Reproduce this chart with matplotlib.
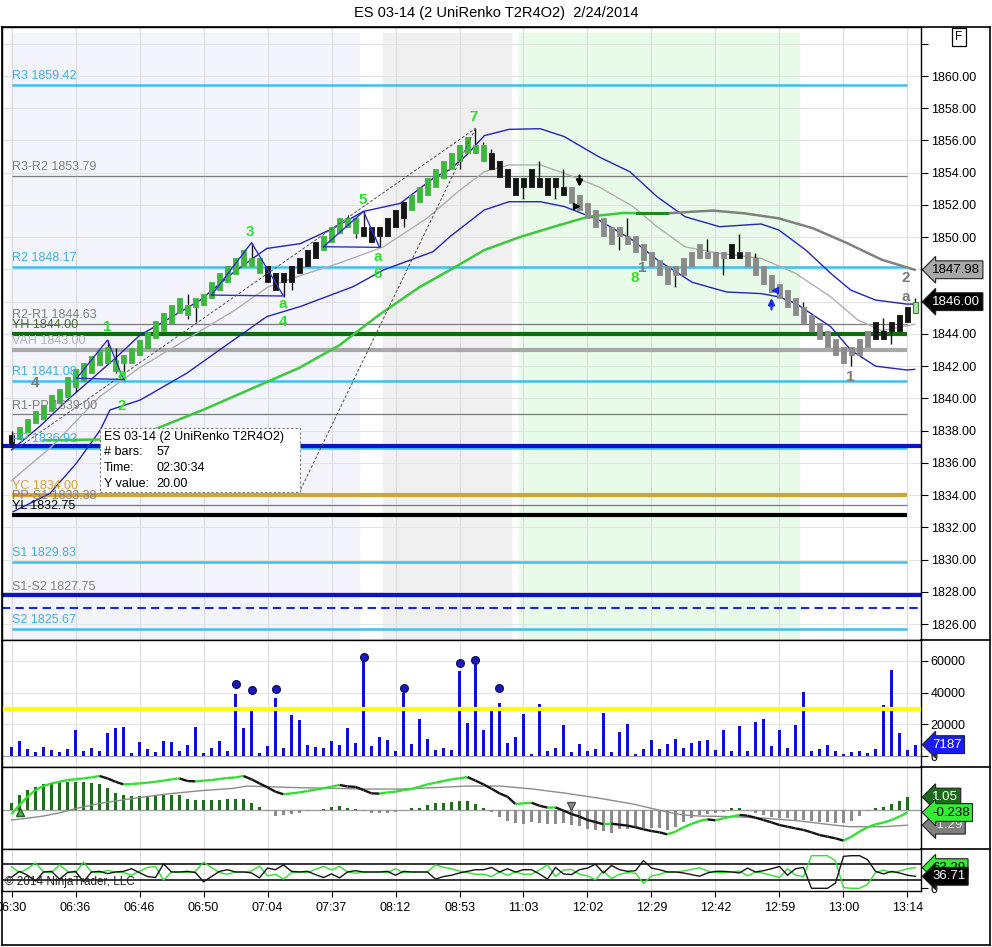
import numpy as np
import matplotlib
matplotlib.use("Agg")
import matplotlib.pyplot as plt
from matplotlib import font_manager
from matplotlib.patches import Rectangle
from matplotlib.collections import LineCollection
from matplotlib.lines import Line2D

plt.rcParams['font.family'] = ['Liberation Sans', 'DejaVu Sans']

# ---------------- data ----------------
title = "ES 03-14 (2 UniRenko T2R4O2)  2/24/2014"
time_labels = ["06:30", "06:36", "06:46", "06:50", "07:04", "07:37", "08:12", "08:53",
               "11:03", "12:02", "12:29", "12:42", "12:59", "13:00", "13:14"]

# renko bodies (top / bottom of body) and colour code per bar
body_top = [1837.75, 1838.25, 1838.7, 1839.2, 1839.6, 1840.2, 1840.6, 1841.3, 1841.8, 1842.2,
            1842.6, 1843.0, 1843.2, 1842.4, 1842.7, 1843.1, 1843.6, 1844.1, 1844.8, 1845.3,
            1845.8, 1846.2, 1845.8, 1846.2, 1846.5, 1847.2, 1847.8, 1848.2, 1848.7, 1849.2,
            1848.7, 1848.7, 1848.2, 1847.8, 1847.8, 1848.2, 1848.7, 1849.2, 1849.7, 1850.1,
            1850.65, 1851.2, 1851.2, 1851.2, 1850.65, 1850.65, 1850.65, 1851.2, 1851.7, 1852.2,
            1852.6, 1853.1, 1853.7, 1854.2, 1854.7, 1855.2, 1855.7, 1856.2, 1855.7, 1855.7,
            1855.2, 1854.7, 1854.2, 1853.7, 1853.7, 1854.2, 1853.7, 1853.7, 1853.7, 1853.1,
            1853.1, 1852.6, 1852.1, 1851.7, 1851.2, 1850.65, 1850.65, 1850.1, 1850.1, 1849.6,
            1849.1, 1848.6, 1848.2, 1848.2, 1848.7, 1849.1, 1849.6, 1849.1, 1849.1, 1849.1,
            1849.6, 1849.1, 1849.1, 1848.7, 1848.2, 1847.65, 1847.1, 1846.7, 1846.2, 1845.7,
            1845.2, 1844.65, 1844.2, 1843.7, 1843.2, 1843.2, 1843.7, 1844.2, 1844.75, 1844.2,
            1844.75, 1845.2, 1845.7, 1846.0]
body_bot = [1837.25, 1837.5, 1837.9, 1838.45, 1838.7, 1839.2, 1839.7, 1840.1, 1840.7, 1841.1,
            1841.6, 1842.1, 1842.2, 1841.7, 1842.2, 1842.2, 1842.7, 1843.1, 1843.75, 1844.2,
            1844.7, 1845.3, 1845.2, 1845.7, 1845.8, 1846.2, 1846.7, 1847.2, 1847.7, 1848.2,
            1848.2, 1847.8, 1847.2, 1846.7, 1847.2, 1847.2, 1847.8, 1848.2, 1848.7, 1849.2,
            1849.7, 1850.25, 1850.65, 1850.25, 1850.1, 1849.7, 1850.1, 1850.1, 1850.65, 1851.2,
            1851.7, 1852.2, 1852.6, 1853.1, 1853.7, 1854.2, 1854.7, 1855.2, 1855.2, 1854.7,
            1854.2, 1853.75, 1853.1, 1852.6, 1853.1, 1853.1, 1853.1, 1852.6, 1853.1, 1852.6,
            1852.1, 1851.7, 1851.2, 1850.65, 1850.1, 1849.6, 1850.1, 1849.6, 1849.1, 1848.6,
            1848.2, 1847.65, 1847.1, 1847.65, 1847.65, 1848.2, 1848.7, 1848.7, 1848.2, 1848.7,
            1848.7, 1848.7, 1848.2, 1847.65, 1847.1, 1846.6, 1846.2, 1845.7, 1845.2, 1844.65,
            1844.2, 1843.7, 1843.2, 1842.7, 1842.2, 1842.7, 1842.7, 1843.2, 1843.7, 1843.7,
            1844.2, 1844.2, 1844.75, 1845.3]
bar_color = ("k" + "g" * 31 + "k" * 7 + "g" * 5 + "k" * 6 + "g" * 10 + "k" * 10
             + "s" * 20 + "kk" + "s" * 16 + "k" * 5 + "L")

wick_idx = [8, 12, 13, 14, 22, 23, 30, 34, 35, 42, 43, 44, 46, 49, 56, 58, 59, 60, 64, 66,
            68, 69, 76, 77, 83, 87, 89, 91, 93, 99, 105, 109, 110, 113]
wick_lo = [1840.4, 1842.2, 1841.6, 1841.14, 1844.9, 1844.76, 1848.2, 1846.3, 1846.7, 1850.65,
           1849.95, 1850.1, 1849.4, 1850.65, 1854.2, 1855.2, 1854.7, 1854.2, 1852.4, 1853.1,
           1852.4, 1852.6, 1849.2, 1849.6, 1846.9, 1848.7, 1847.65, 1848.7, 1847.65, 1844.65,
           1842.0, 1843.7, 1843.4, 1845.3]
wick_hi = [1841.8, 1843.62, 1843.1, 1842.7, 1846.5, 1846.2, 1849.65, 1847.8, 1848.2, 1851.4,
           1851.2, 1851.6, 1850.65, 1852.2, 1855.7, 1856.75, 1855.9, 1855.45, 1853.7, 1854.7,
           1853.7, 1854.2, 1850.65, 1851.2, 1848.2, 1849.9, 1849.1, 1850.2, 1849.0, 1846.0,
           1843.2, 1845.0, 1844.75, 1846.2]

# envelope bands and moving averages (bar index, price)
upper_x = [0, 3.5, 7, 10, 13, 16, 19.5, 23.6, 27.7, 31.9, 36.1, 40.2, 44, 48.6, 52.7, 54.8, 56.9,
           59.1, 62.2, 66.1, 69.1, 73.4, 77.3, 80.7, 84.2, 88.5, 93.7, 95.9, 99.3, 102.4, 104.9,
           108, 111.9, 112.9]
upper_y = [1836.8, 1838.25, 1839.9, 1841.2, 1842.5, 1843.9, 1844.9, 1846.1, 1847.8, 1849.3,
           1849.6, 1850.55, 1851.6, 1852.1, 1853.65, 1854.2, 1855.1, 1856.3, 1856.69, 1856.73,
           1856.24, 1854.99, 1854.06, 1852.51, 1851.27, 1850.65, 1850.82, 1850.45, 1849.2,
           1847.76, 1846.72, 1846.1, 1845.85, 1845.85]
lower_x = [0.2, 4.8, 8.1, 11.1, 12.3, 16.1, 21.9, 27.7, 31.9, 36.1, 42.7, 46.5, 52.7, 54.8, 59.1,
           62.2, 66.1, 69.1, 73.4, 77.7, 80.7, 85.1, 89.4, 93.7, 95.9, 98, 102.4, 104.9, 108,
           111.9, 112.9]
lower_y = [1832.97, 1834.1, 1835.97, 1838.04, 1839.28, 1839.9, 1841.56, 1843.6, 1845.07, 1845.7,
           1846.93, 1847.97, 1849.1, 1850.03, 1851.69, 1852.2, 1852.2, 1851.9, 1851.07, 1849.8,
           1848.6, 1847.2, 1846.6, 1846.5, 1846.3, 1845.9, 1844.45, 1843.0, 1842.0, 1841.76,
           1841.8]
mid_x = [0, 5, 11, 16, 22, 28, 32, 36, 41, 46.5, 52, 56, 59.1, 62.2, 66.1, 69.1, 73.4, 77.7, 80.7,
         84.2, 88.5, 93.7, 98, 102.4, 105.8, 108.8, 112.9]
mid_y = [1834.9, 1837.0, 1840.1, 1841.9, 1843.7, 1845.5, 1846.9, 1847.6, 1848.4, 1849.4, 1851.2,
         1852.9, 1854.06, 1854.48, 1854.48, 1853.96, 1853.13, 1851.9, 1850.65, 1849.4, 1849.0,
         1848.69, 1847.76, 1846.3, 1844.86, 1844.2, 1844.6]
ma_green_x = [4, 11, 18, 24, 30, 36, 41, 46, 51, 54.8, 59.1, 63.5, 67.8, 72.1, 76.4, 82]
ma_green_y = [1837.4, 1837.45, 1838.1, 1839.3, 1840.6, 1841.9, 1843.3, 1845.2, 1846.9, 1847.96,
              1849.2, 1850.0, 1850.65, 1851.27, 1851.5, 1851.48]
ma_gray_x = [82, 85.1, 87.7, 91.6, 95.9, 100.2, 104.5, 108.8, 112.9]
ma_gray_y = [1851.48, 1851.58, 1851.65, 1851.48, 1851.17, 1850.55, 1849.62, 1848.6, 1847.98]

# pivot levels: (label, price, kind)
pivots = [("R3", 1859.42, "rs"), ("R3-R2", 1853.79, "mid"), ("R2", 1848.17, "rs"),
          ("R2-R1", 1844.63, "mid"), ("YH", 1844.00, "yh"), ("VAH", 1843.00, "vah"),
          ("R1", 1841.08, "rs"), ("R1-PP", 1839.00, "mid"), ("PP", 1836.92, "rs"),
          ("YC", 1834.00, "yc"), ("PP-S1", 1833.38, "mid"), ("YL", 1832.75, "yl"),
          ("S1", 1829.83, "rs"), ("S1-S2", 1827.75, "mid"), ("S2", 1825.67, "rs")]
drawn_lines = [1837.03, 1827.8]      # thick blue horizontal lines
drawn_dashed = 1827.02

# pattern triangles
tri_x = [[8.15, 12, 14, 8.15], [25, 30, 34, 25], [39, 44, 46, 39]]
tri_y = [[1841.25, 1843.62, 1841.17, 1841.25], [1846.41, 1849.66, 1846.35, 1846.41],
         [1849.41, 1851.6, 1849.37, 1849.41]]
dash_x = [[1, 58], [58, 36.1]]
dash_y = [[1837.0, 1856.75], [1856.75, 1834.3]]
green_marks = [("1", 11.95, 1844.4), ("a", 13.8, 1841.45), ("2", 13.8, 1839.5),
               ("3", 29.8, 1850.3), ("a", 33.9, 1845.86), ("4", 33.9, 1844.74),
               ("5", 43.9, 1852.3), ("a", 45.8, 1848.77), ("6", 45.8, 1847.72),
               ("7", 57.75, 1857.45), ("8", 77.9, 1847.45)]
gray_marks = [("4", 2.9, 1840.96), ("1", 78.8, 1848.1), ("1", 104.9, 1841.35),
              ("2", 111.8, 1847.45), ("a", 111.8, 1846.3)]

# volume
volume = [5500, 9500, 4400, 2500, 5700, 3800, 2500, 4400, 16500, 3200,
          5000, 3200, 14500, 17700, 18400, 1900, 8900, 4400, 2500, 9500,
          8900, 3200, 7000, 18400, 1900, 5000, 9500, 3200, 39200, 17700,
          29100, 1900, 6300, 36700, 5000, 26000, 22800, 7000, 5700, 5000,
          9500, 7000, 17700, 8200, 62500, 6300, 12000, 10100, 3200, 40100,
          7600, 23400, 10800, 3800, 5000, 3800, 53800, 20900, 57600, 16500,
          29100, 33500, 8200, 12000, 26600, 1300, 32900, 3200, 5000, 19600,
          2500, 7600, 3200, 4400, 27200, 2500, 15200, 20300, 1300, 4400,
          10100, 4400, 7600, 10800, 5000, 8200, 9500, 10100, 3800, 16500,
          3200, 19000, 3200, 21500, 23400, 6300, 16500, 5000, 19600, 40500,
          3200, 4400, 7000, 3200, 1300, 2500, 3200, 1900, 4400, 32300,
          54400, 14500, 3800, 7187]
vol_dot_idx = [28, 30, 33, 44, 49, 56, 58, 61]
vol_dot_val = [45400, 41600, 42200, 62500, 42800, 58700, 60600, 42800]
vol_level = 30000

# MACD
macd_hist = [0.58, 1.22, 1.64, 1.92, 2.14, 2.19, 2.28, 2.28, 2.33, 2.28,
             2.25, 2.14, 1.83, 1.42, 1.22, 1.17, 1.17, 1.17, 1.22, 1.22,
             1.22, 1.22, 0.86, 0.81, 0.81, 0.81, 0.81, 0.86, 0.86, 0.86,
             0.53, 0.19, -0.11, -0.5, -0.44, -0.36, -0.31, -0.14, -0.02, 0.02,
             0.25, 0.31, 0.11, 0.06, -0.08, -0.31, -0.31, -0.25, -0.17, -0.03,
             0.11, 0.17, 0.39, 0.53, 0.53, 0.67, 0.72, 0.72, 0.47, 0.14,
             -0.22, -0.58, -0.92, -1.14, -1.19, -1.0, -1.08, -1.22, -1.19, -1.14,
             -1.28, -1.36, -1.58, -1.69, -1.78, -1.92, -1.64, -1.64, -1.56, -1.5,
             -1.56, -1.56, -1.69, -1.42, -1.0, -0.72, -0.44, -0.36, -0.31, -0.17,
             0.14, 0.11, -0.08, -0.25, -0.44, -0.58, -0.72, -0.72, -0.86, -0.86,
             -0.94, -1.0, -1.0, -1.14, -1.14, -0.94, -0.53, -0.08, 0.17, 0.25,
             0.47, 0.75, 1.05]
macd_line = [-0.36, 0.39, 1.08, 1.64, 1.97, 2.19, 2.33, 2.47, 2.53, 2.61,
             2.69, 2.81, 2.61, 2.33, 2.11, 2.14, 2.19, 2.25, 2.33, 2.42,
             2.53, 2.61, 2.39, 2.36, 2.42, 2.47, 2.56, 2.64, 2.69, 2.81,
             2.53, 2.19, 1.86, 1.5, 1.28, 1.36, 1.44, 1.56, 1.67, 1.78,
             1.92, 2.06, 1.94, 1.9, 1.64, 1.36, 1.34, 1.44, 1.5, 1.64,
             1.72, 1.92, 2.11, 2.25, 2.39, 2.53, 2.61, 2.72, 2.42, 2.11,
             1.75, 1.36, 1.08, 0.47, 0.53, 0.58, 0.33, 0.17, 0.19, -0.08,
             -0.36, -0.58, -0.86, -1.03, -1.22, -1.17, -1.25, -1.33, -1.47, -1.64,
             -1.78, -1.89, -2.06, -1.83, -1.47, -1.19, -0.94, -0.81, -0.89, -0.72,
             -0.58, -0.44, -0.5, -0.67, -0.86, -1.06, -1.28, -1.42, -1.56, -1.69,
             -1.89, -2.11, -2.25, -2.39, -2.58, -2.25, -1.83, -1.47, -1.22, -1.08,
             -0.86, -0.58, -0.238]
sig_x = [0, 1.9, 4, 6.1, 8.1, 11.1, 15.2, 19.4, 23.6, 27.7, 29.4, 31.9, 36.1, 40.2, 44.4, 48.6,
         52.7, 56.9, 61.1, 65.2, 69.4, 73.6, 77.7, 81.8, 83.9, 86.0, 90.2, 94.4, 98.5, 102.7,
         104.8, 109, 112]
sig_y = [-0.86, -0.72, -0.53, -0.25, 0.11, 0.53, 0.94, 1.31, 1.58, 1.78, 1.97, 1.92, 1.83, 1.78,
         1.72, 1.72, 1.83, 1.97, 1.97, 1.72, 1.36, 0.94, 0.47, -0.17, -0.44, -0.53, -0.58,
         -0.72, -0.94, -1.28, -1.42, -1.42, -1.29]

# bottom oscillator (black line; the green line is its mirror, 63.29 + 36.71 = 100)
osc_black = [34, 52, 40, 22, 50, 52, 28, 48, 52, 20, 50, 52, 45, 50, 52, 60, 48, 36, 33, 75,
             50, 50, 52, 48, 20, 36, 52, 57, 50, 50, 47, 32, 62, 57, 72, 52, 50, 52, 42, 33,
             44, 32, 50, 54, 50, 50, 50, 52, 40, 52, 50, 50, 50, 28, 36, 40, 47, 52, 57, 57,
             64, 50, 60, 50, 57, 57, 44, 28, 64, 44, 42, 57, 62, 74, 47, 70, 57, 52, 54, 85,
             62, 57, 50, 50, 47, 42, 37, 47, 52, 52, 50, 47, 62, 50, 54, 60, 67, 40, 60, 64,
             0, 0, 0, 16, 98, 100, 100, 88, 52, 44, 52, 47, 40, 36.71]
osc_levels = [75, 25]

# ---------------- figure ----------------
W, H = 992, 947
fig = plt.figure(figsize=(W / 100, H / 100), dpi=100)


def fx(p):
    return p / W


def fy(p):
    return 1 - p / H


def rect(x0, y0, x1, y1):
    return [fx(x0), fy(y1), fx(x1) - fx(x0), fy(y0) - fy(y1)]


ax_p = fig.add_axes(rect(2, 27, 921, 640))
ax_v = fig.add_axes(rect(2, 640, 921, 767), sharex=ax_p)
ax_m = fig.add_axes(rect(2, 767, 921, 849), sharex=ax_p)
ax_o = fig.add_axes(rect(2, 849, 921, 891), sharex=ax_p)

xt = list(range(0, 113, 8))
for ax in (ax_p, ax_v, ax_m, ax_o):
    ax.set_xlim(-1.19, 113.69)
    ax.set_xticks(xt)
    ax.grid(axis="x", color="#dcdcdc", lw=0.8, zorder=0)
    ax.set_axisbelow(True)
    for s in ax.spines.values():
        s.set_color("black")
        s.set_linewidth(1)
    ax.yaxis.tick_right()
    ax.tick_params(axis="y", direction="out", length=5, pad=2, labelsize=9)
    ax.tick_params(axis="x", length=0, labelbottom=False)


def value_box(ax, y, txt, fc, tc, ec="#202020"):
    ax.text(1.0 + 11 / 919, y, txt, transform=ax.get_yaxis_transform(), ha="left", va="center",
            fontsize=9.5, color=tc, clip_on=False, zorder=20,
            bbox=dict(boxstyle="larrow,pad=0.22", fc=fc, ec=ec, lw=0.8))


# ---------------- price panel ----------------
ax_p.set_ylim(1825.01, 1863.04)
pt = list(range(1826, 1863, 2))
ax_p.set_yticks(pt)
ax_p.set_yticklabels(["%.2f" % v if v < 1862 else "" for v in pt])
ax_p.grid(axis="y", color="#e4e4e4", lw=0.8, zorder=0)

ax_p.axvspan(-0.2, 43.4, ymax=0.99, color="#f4f5fc", zorder=0)
ax_p.axvspan(46.4, 62.4, ymax=0.99, color="#f0f0f0", zorder=0)
ax_p.axvspan(63.4, 98.4, ymax=0.99, color="#e8fbe8", zorder=0)

styles = {"rs": ("#3cc0ee", 1.8, "#3cb0e0"), "mid": ("#7a7a7a", 0.9, "#808080"),
          "yh": ("#0c6e0c", 3.0, "#4a6a30"), "vah": ("#a8a8a8", 3.0, "#b4b4b4"),
          "yc": ("#d4a23a", 3.0, "#d4a23a"), "yl": ("#000000", 3.0, "#000000")}
for name, price, kind in pivots:
    lc, lw, tc = styles[kind]
    ax_p.hlines(price, 0, 112, color=lc, lw=lw, zorder=1)
    ax_p.text(0.1, price + 0.18, "%s %.2f" % (name, price), color=tc, fontsize=9,
              ha="left", va="bottom", zorder=6)
for price in drawn_lines:
    ax_p.axhline(price, color="#0a14c8", lw=3.0, zorder=1.5)
ax_p.axhline(drawn_dashed, color="#1a28d0", lw=1.5, ls=(0, (4, 2.5)), zorder=1.5)

ax_p.plot(upper_x, upper_y, color="#2424b4", lw=1, zorder=2)
ax_p.plot(lower_x, lower_y, color="#2424b4", lw=1, zorder=2)
ax_p.plot(mid_x, mid_y, color="#b0b0b0", lw=1, zorder=2)
ax_p.plot(ma_green_x, ma_green_y, color="#3cc83c", lw=1.8, zorder=2)
ax_p.plot(ma_gray_x, ma_gray_y, color="#808080", lw=1.8, zorder=2)
ax_p.plot([78.2, 82], [1851.5, 1851.5], color="#1e8a1e", lw=2.2, zorder=2.1)

# wicks and bodies
ax_p.vlines(wick_idx, wick_lo, wick_hi, color="#141414", lw=1, zorder=3)
ax_p.vlines([0], [1837.0], [1837.95], color="#141414", lw=1, zorder=3)
fills = {"g": "#3cb83c", "k": "#141414", "s": "#8a8a8a", "L": "#a6e4a6"}
edges = {"g": "#3cb83c", "k": "#141414", "s": "#8a8a8a", "L": "#1e6e1e"}
xb = np.arange(len(body_top))
ax_p.bar(xb, np.array(body_top) - np.array(body_bot), bottom=body_bot, width=0.72,
         color=[fills[c] for c in bar_color], edgecolor=[edges[c] for c in bar_color],
         linewidth=0.6, zorder=3.2)

for xs, ys in zip(tri_x, tri_y):
    ax_p.plot(xs, ys, color="#3030c8", lw=1, zorder=4)
for xs, ys in zip(dash_x, dash_y):
    ax_p.plot(xs, ys, color="#505050", lw=0.7, ls=(0, (3, 2)), zorder=4)

for t, x, y in green_marks:
    ax_p.text(x, y, t, color="#2ee02e", fontsize=11, fontweight="bold", ha="center",
              va="center", zorder=7)
for t, x, y in gray_marks:
    ax_p.text(x, y, t, color="#7c7c7c", fontsize=11, fontweight="bold", ha="center",
              va="center", zorder=7)

ax_p.annotate("", xy=(71.0, 1852.95), xytext=(71.0, 1854.0),
              arrowprops=dict(arrowstyle="-|>", color="black", lw=1.6, mutation_scale=9), zorder=8)
ax_p.plot([70.6], [1851.95], marker=">", color="black", ms=4, zorder=8)
ax_p.annotate("", xy=(95.0, 1846.4), xytext=(95.0, 1845.35),
              arrowprops=dict(arrowstyle="-|>", color="#1a28e0", lw=1.6, mutation_scale=9), zorder=8)
ax_p.plot([95.4], [1846.7], marker="<", color="#1a28e0", ms=4, zorder=8)

# tooltip
ax_p.add_patch(Rectangle((11.06, 1834.19), 25.0, 3.97, facecolor="white", edgecolor="#7a7a7a",
                         lw=0.8, ls=(0, (2, 2)), zorder=9))
tip_rows = [("ES 03-14 (2 UniRenko T2R4O2)", "", 1837.6), ("# bars:", "57", 1836.68),
            ("Time:", "02:30:34", 1835.68), ("Y value:", "20.00", 1834.69)]
for left, right, y in tip_rows:
    ax_p.text(11.5, y, left, fontsize=9, ha="left", va="center", zorder=10)
    if right:
        ax_p.text(18.1, y, right, fontsize=9, ha="left", va="center", zorder=10)

value_box(ax_p, 1847.98, "1847.98", "#a8a8a8", "black")
value_box(ax_p, 1846.00, "1846.00", "black", "white")

# ---------------- volume panel ----------------
ax_v.set_ylim(-6947, 73263)
ax_v.set_yticks([0, 20000, 40000, 60000])
ax_v.set_yticklabels(["0", "20000", "40000", "60000"])
ax_v.grid(axis="y", color="#e4e4e4", lw=0.8, zorder=0)
ax_v.axhline(0, color="#9a9aaa", lw=0.8, zorder=1)
ax_v.bar(np.arange(len(volume)), volume, width=0.3, color="#1010d0", zorder=2)
ax_v.axhline(vol_level, color="#ffff00", lw=3, zorder=3)
ax_v.plot(vol_dot_idx, vol_dot_val, "o", color="#1a1ac0", mec="#101060", ms=5.5, zorder=4)
value_box(ax_v, volume[-1], "7187", "#1a1aff", "white")

# ---------------- MACD panel ----------------
ax_m.set_ylim(-3.28, 3.56)
ax_m.set_yticks([])
ax_m.axhline(0, color="#a0a0a0", lw=1, zorder=1)
hx = np.arange(len(macd_hist))
ax_m.bar(hx, macd_hist, width=0.45, zorder=2,
         color=["#1e6e1e" if v >= 0 else "#8c8c8c" for v in macd_hist])
ax_m.plot(sig_x, sig_y, color="#8c8c8c", lw=1, zorder=3)
mx = np.arange(len(macd_line))
segs = [[(mx[k], macd_line[k]), (mx[k + 1], macd_line[k + 1])] for k in range(len(mx) - 1)]
seg_cols = ["#33dd33" if macd_line[k + 1] >= macd_line[k] else "#141414" for k in range(len(mx) - 1)]
ax_m.add_collection(LineCollection(segs, colors=seg_cols, linewidths=1.7, zorder=4))
ax_m.plot([1], [-0.2], marker="^", color="#3cb83c", mec="#1e5e1e", ms=6, zorder=5)
ax_m.plot([70], [0.33], marker="v", color="#8c8c8c", mec="#505050", ms=6, zorder=5)
value_box(ax_m, 1.05, "1.05", "#1a6b1a", "white")
value_box(ax_m, -1.29, "-1.29", "#808080", "#e8e8e8")
value_box(ax_m, -0.238, "-0.238", "#33ee33", "black")

# ---------------- oscillator panel ----------------
ax_o.set_ylim(-8.3, 120.5)
ax_o.set_yticks([0])
ax_o.set_yticklabels(["0"])
for lv in osc_levels:
    ax_o.axhline(lv, color="black", lw=1.1, zorder=1)
ox = np.arange(len(osc_black))
osc_green = [100 - v for v in osc_black]
ax_o.plot(ox, osc_green, color="#33dd33", lw=1, zorder=2)
ax_o.plot(ox, osc_black, color="#141414", lw=1, zorder=3)
value_box(ax_o, osc_green[-1], "%.2f" % osc_green[-1], "#33ee33", "black")
value_box(ax_o, osc_black[-1], "%.2f" % osc_black[-1], "black", "white")
ax_o.text(0.003, 0.07, "\u00a9 2014 NinjaTrader, LLC", transform=ax_o.transAxes, fontsize=8.5,
          color="#202020", ha="left", va="bottom", zorder=6)
ax_o.tick_params(axis="x", length=4, direction="out", labelbottom=True, labelsize=9, pad=4)
ax_o.set_xticklabels(time_labels)

# ---------------- frame, title ----------------
frame = [((2, 27), (990, 27)), ((990, 27), (990, 945)), ((2, 945), (990, 945)),
         ((2, 27), (2, 945)), ((921, 640), (990, 640)), ((921, 767), (990, 767)),
         ((921, 849), (990, 849))]
for (x0, y0), (x1, y1) in frame:
    fig.add_artist(Line2D([fx(x0), fx(x1)], [fy(y0), fy(y1)], color="black", lw=1.2))

names = {f.name for f in font_manager.fontManager.ttflist}
if "Liberation Sans Narrow" in names:
    fig.text(0.5, fy(13), title, ha="center", va="center", fontsize=12,
             family="Liberation Sans Narrow")
else:
    fig.text(0.5, fy(13), title, ha="center", va="center", fontsize=10.5, fontstretch="condensed")
fig.text(fx(959), fy(37), "F", ha="center", va="center", fontsize=8.5,
         bbox=dict(boxstyle="square,pad=0.25", fc="white", ec="black", lw=0.9))

fig.savefig("out.png", dpi=100)
